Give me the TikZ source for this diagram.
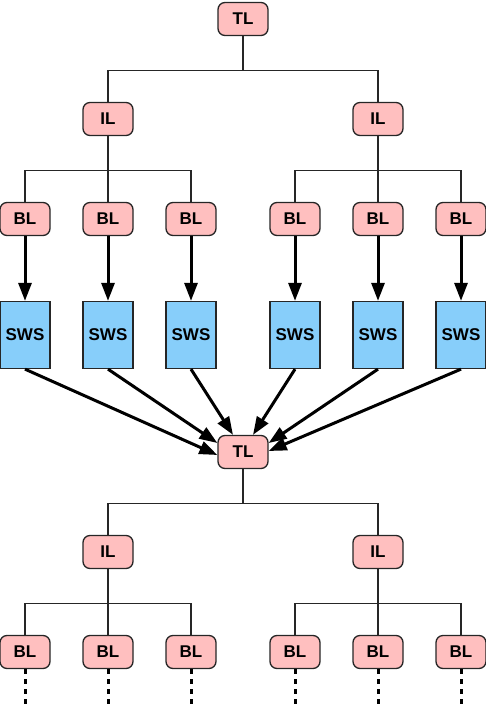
\documentclass[tikz,border=0pt]{standalone}
\usepackage{fontspec}
\setmainfont{Liberation Sans}
\usetikzlibrary{arrows.meta}

\definecolor{lvlpink}{HTML}{FFBFBF}
\definecolor{swsblue}{HTML}{87CEFA}
\definecolor{edgegray}{HTML}{262626}

\tikzset{
  lvl/.style={draw=edgegray,line width=1.3pt,fill=lvlpink,rounded corners=7pt,
              minimum width=50pt,minimum height=33pt,inner sep=0pt},
  sws/.style={draw=edgegray,line width=1.3pt,fill=swsblue,
              minimum width=50pt,minimum height=67pt,inner sep=0pt},
}

\begin{document}
\begin{tikzpicture}[x=1pt,y=1pt,node distance=100pt,
    font=\fontsize{17}{20}\selectfont\bfseries,
    tree/.style={draw=edgegray,line width=1.1pt,
                 to path={(\tikztostart.south) -- ++(0,-34pt) -| (\tikztotarget.north)}},
    feed/.style={line width=3pt,-{Triangle[length=18pt,width=13pt]}},
    trail/.style={line width=3pt,dash pattern=on 5pt off 5pt}]
  \useasboundingbox (0,0) rectangle (486,-708);

  % upper tree
  \node[lvl] (T1) at (243,-19)            {TL};
  \node[lvl] (I1) [below of=T1,xshift=-135pt] {IL};
  \node[lvl] (I2) [below of=T1,xshift=135pt]  {IL};
  \node[lvl] (B2) [below of=I1]           {BL};
  \node[lvl] (B1) [node distance=83pt,left of=B2]  {BL};
  \node[lvl] (B3) [node distance=83pt,right of=B2] {BL};
  \node[lvl] (B5) [below of=I2]           {BL};
  \node[lvl] (B4) [node distance=83pt,left of=B5]  {BL};
  \node[lvl] (B6) [node distance=83pt,right of=B5] {BL};

  % workstations
  \foreach \i in {1,...,6}
    \node[sws] (S\i) [node distance=116pt,below of=B\i] {SWS};

  % lower tree
  \node[lvl] (T2) at (243,-452)           {TL};
  \node[lvl] (J1) [below of=T2,xshift=-135pt] {IL};
  \node[lvl] (J2) [below of=T2,xshift=135pt]  {IL};
  \node[lvl] (C2) [below of=J1]           {BL};
  \node[lvl] (C1) [node distance=83pt,left of=C2]  {BL};
  \node[lvl] (C3) [node distance=83pt,right of=C2] {BL};
  \node[lvl] (C5) [below of=J2]           {BL};
  \node[lvl] (C4) [node distance=83pt,left of=C5]  {BL};
  \node[lvl] (C6) [node distance=83pt,right of=C5] {BL};

  \path (T1) edge[tree] (I1)
             edge[tree] (I2)
        (I1) edge[tree] (B1)
             edge[tree] (B2)
             edge[tree] (B3)
        (I2) edge[tree] (B4)
             edge[tree] (B5)
             edge[tree] (B6)
        (T2) edge[tree] (J1)
             edge[tree] (J2)
        (J1) edge[tree] (C1)
             edge[tree] (C2)
             edge[tree] (C3)
        (J2) edge[tree] (C4)
             edge[tree] (C5)
             edge[tree] (C6)
        ;

  \foreach \i in {1,...,6}
    \draw[feed] (B\i) -- (S\i);

  \draw[feed] (S1.south) -- ([yshift=-3pt]T2.west);
  \draw[feed] (S2.south) -- ([yshift=9pt]T2.west);
  \draw[feed] (S3.south) -- ([xshift=-10pt]T2.north);
  \draw[feed] (S4.south) -- ([xshift=10pt]T2.north);
  \draw[feed] (S5.south) -- ([yshift=9pt]T2.east);
  \draw[feed] (S6.south) -- ([yshift=1pt]T2.east);

  \foreach \i in {1,...,6}
    \draw[trail] (C\i.south) -- ++(0,-40pt);
\end{tikzpicture}
\end{document}
